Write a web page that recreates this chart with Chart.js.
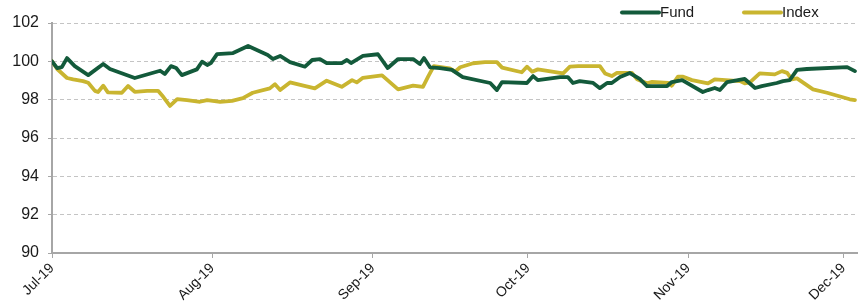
<!DOCTYPE html>
<html>
<head>
<meta charset="utf-8">
<script src="https://cdn.jsdelivr.net/npm/chart.js@4.4.1/dist/chart.umd.min.js"></script>
<style>
  html, body { margin: 0; padding: 0; background: #ffffff; }
  #wrap { width: 862px; height: 306px; position: relative; }
</style>
</head>
<body>
<div id="wrap"><canvas id="c" width="862" height="306"></canvas></div>
<script>
// Days since 1 Jul 2019
const fundDays = [0, 1.0, 1.9, 2.9, 4.4, 7.0, 9.9, 11.2, 16.0, 20.9, 21.8, 23.0, 24.0, 25.1, 28.0, 29.0, 30.0, 30.7, 31.9, 35.0, 37.9, 41.7, 42.7, 44.1, 46.0, 48.9, 50.3, 51.8, 53.1, 56.0, 57.0, 57.8, 60.1, 63.0, 64.9, 66.9, 69.8, 71.1, 71.9, 73.1, 75.0, 77.3, 79.4, 84.7, 86.0, 87.0, 91.8, 93.0, 93.9, 98.2, 99.7, 100.7, 102.0, 104.6, 105.9, 107.3, 108.2, 109.8, 111.7, 113.6, 115.0, 118.9, 119.8, 121.8, 125.8, 126.8, 128.1, 129.1, 130.5, 133.9, 135.9, 137.2, 140.1, 141.3, 142.6, 144.0, 145.9, 153.7, 155.2];
const fundValues = [100.0, 99.65, 99.7, 100.17, 99.75, 99.28, 99.86, 99.6, 99.13, 99.51, 99.34, 99.75, 99.65, 99.28, 99.58, 99.98, 99.81, 99.91, 100.38, 100.43, 100.8, 100.33, 100.12, 100.28, 99.96, 99.72, 100.07, 100.12, 99.91, 99.91, 100.07, 99.91, 100.28, 100.37, 99.65, 100.12, 100.12, 99.86, 100.17, 99.68, 99.65, 99.55, 99.18, 98.87, 98.5, 98.92, 98.87, 99.23, 99.02, 99.18, 99.18, 98.87, 98.97, 98.87, 98.6, 98.87, 98.87, 99.18, 99.39, 99.08, 98.71, 98.71, 98.92, 99.02, 98.4, 98.5, 98.61, 98.5, 98.92, 99.08, 98.61, 98.71, 98.87, 98.97, 99.02, 99.55, 99.6, 99.7, 99.49];

const indexDays = [0, 1.0, 2.9, 4.1, 6.0, 7.0, 8.3, 8.9, 9.9, 10.8, 13.5, 14.7, 16.0, 18.4, 20.5, 21.5, 22.8, 24.2, 26.1, 28.6, 30.0, 32.5, 34.8, 36.9, 38.8, 42.1, 43.1, 44.1, 46.0, 50.8, 53.1, 56.0, 58.0, 58.9, 60.1, 63.8, 66.9, 69.8, 71.7, 72.7, 73.8, 76.9, 77.9, 78.9, 81.4, 83.7, 86.0, 87.0, 90.8, 91.8, 92.8, 93.9, 98.8, 100.1, 101.7, 105.9, 106.9, 108.2, 109.2, 112.1, 113.1, 115.0, 116.0, 119.1, 119.8, 121.0, 122.0, 123.7, 126.8, 128.1, 133.0, 133.9, 134.9, 136.8, 139.7, 141.1, 142.1, 143.0, 144.0, 147.1, 149.8, 154.2, 155.2];
const indexValues = [100.0, 99.6, 99.13, 99.06, 98.97, 98.88, 98.46, 98.4, 98.73, 98.38, 98.36, 98.71, 98.41, 98.46, 98.46, 98.15, 97.67, 98.03, 97.98, 97.89, 97.98, 97.89, 97.94, 98.08, 98.36, 98.59, 98.81, 98.5, 98.9, 98.59, 98.99, 98.67, 99.02, 98.9, 99.14, 99.27, 98.54, 98.73, 98.67, 99.2, 99.75, 99.63, 99.46, 99.69, 99.9, 99.96, 99.96, 99.67, 99.43, 99.72, 99.46, 99.58, 99.37, 99.72, 99.75, 99.75, 99.37, 99.23, 99.4, 99.4, 99.06, 98.85, 98.93, 98.88, 98.73, 99.2, 99.2, 99.02, 98.85, 99.06, 98.97, 98.85, 98.9, 99.37, 99.32, 99.49, 99.4, 99.06, 99.11, 98.54, 98.36, 98.02, 97.98];

const seriesNames = ['Fund', 'Index'];
const monthTickDays = [0, 31, 62, 92, 123, 153];
const monthTickLabels = ['Jul-19', 'Aug-19', 'Sep-19', 'Oct-19', 'Nov-19', 'Dec-19'];

const COLORS = ['#135a3b', '#c9b530'];
const toXY = (xs, ys) => xs.map((x, i) => ({ x: x, y: ys[i] }));

const legendPlugin = {
  id: 'customLegend',
  afterDraw(chart) {
    const ctx = chart.ctx;
    const items = [
      { x0: 622, x1: 659, tx: 660, label: seriesNames[0], color: COLORS[0] },
      { x0: 744, x1: 781, tx: 782, label: seriesNames[1], color: COLORS[1] }
    ];
    const y = 12.5;
    ctx.save();
    items.forEach(it => {
      ctx.beginPath();
      ctx.lineWidth = 4;
      ctx.strokeStyle = it.color;
      ctx.lineCap = 'round';
      ctx.moveTo(it.x0, y);
      ctx.lineTo(it.x1, y);
      ctx.stroke();
      ctx.fillStyle = '#1a1a1a';
      ctx.font = '15px "Liberation Sans", Arial, sans-serif';
      ctx.textBaseline = 'middle';
      ctx.textAlign = 'left';
      ctx.fillText(it.label, it.tx, y + 0.5);
    });
    ctx.restore();
  }
};

new Chart(document.getElementById('c'), {
  type: 'line',
  data: {
    datasets: [
      { label: seriesNames[0], data: toXY(fundDays, fundValues), borderColor: COLORS[0], backgroundColor: COLORS[0], borderWidth: 3.8, pointRadius: 0, tension: 0, borderJoinStyle: 'round', borderCapStyle: 'round' },
      { label: seriesNames[1], data: toXY(indexDays, indexValues), borderColor: COLORS[1], backgroundColor: COLORS[1], borderWidth: 3.8, pointRadius: 0, tension: 0, borderJoinStyle: 'round', borderCapStyle: 'round' }
    ]
  },
  options: {
    responsive: false,
    animation: false,
    devicePixelRatio: 1,
    layout: { padding: { top: 23, right: 5, left: 0, bottom: 0 } },
    plugins: { legend: { display: false }, tooltip: { enabled: false } },
    scales: {
      x: {
        type: 'linear',
        min: 0,
        max: 155.6,
        afterFit(scale) { scale.height = 53; },
        afterBuildTicks(scale) { scale.ticks = monthTickDays.map(v => ({ value: v })); },
        ticks: {
          autoSkip: false,
          minRotation: 45,
          maxRotation: 45,
          padding: 2,
          color: '#1a1a1a',
          font: { family: '"Liberation Sans", Arial, sans-serif', size: 14 },
          callback(value) { const i = monthTickDays.indexOf(value); return i >= 0 ? monthTickLabels[i] : ''; }
        },
        grid: { display: true, drawOnChartArea: false, drawTicks: true, tickLength: 5, tickColor: '#a6a6a6', tickWidth: 1 },
        border: { display: true, color: '#a6a6a6', width: 2 }
      },
      y: {
        min: 90,
        max: 102,
        afterFit(scale) { scale.width = 52; },
        ticks: {
          stepSize: 2,
          padding: 9,
          color: '#1a1a1a',
          font: { family: '"Liberation Sans", Arial, sans-serif', size: 16 }
        },
        grid: { color: '#c4c4c4', lineWidth: 1, drawTicks: true, tickLength: 4, tickColor: '#a6a6a6', tickWidth: 1, tickBorderDash: [] },
        border: { display: true, color: '#a6a6a6', width: 2, dash: [4, 3] }
      }
    }
  },
  plugins: [legendPlugin]
});
</script>
</body>
</html>
